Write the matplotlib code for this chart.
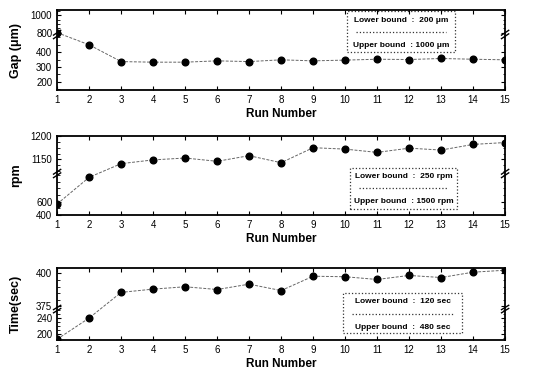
import numpy as np
import matplotlib.pyplot as plt
from matplotlib.patches import Rectangle
from matplotlib.ticker import FixedLocator

plt.rcParams['font.family'] = ['Liberation Sans', 'DejaVu Sans']

runs = list(range(1, 16))

gap = [800, 450, 336, 332, 332, 341, 336, 348, 341, 346, 352, 350, 357, 352, 348]
rpm = [565, 965, 1141, 1149, 1153, 1146, 1158, 1143, 1175, 1172, 1165, 1174, 1170, 1182, 1186]
time_sec = [187, 240, 385.5, 388, 389.8, 387.7, 391.8, 386.9, 397.9, 397.5, 395.4, 398.5, 396.9, 401, 402.5]

gap_ticks = [200, 300, 400, 800, 1000]
rpm_ticks = [400, 600, 1150, 1200]
time_ticks = [200, 240, 375, 400]

gap_minor = [150, 250, 350, 450, 500, 850, 900, 950, 1050]
rpm_minor = [500, 700, 800, 900, 1000, 1125, 1137.5, 1162.5, 1175, 1187.5]
time_minor = [190, 210, 220, 230, 250, 260, 380, 385, 390, 395]

gap_bounds = ('Lower bound  :  200 μm', 'Upper bound  : 1000 μm')
rpm_bounds = ('Lower bound  :  250 rpm', 'Upper bound  : 1500 rpm')
time_bounds = ('Lower bound  :  120 sec', 'Upper bound  :  480 sec')


def broken_scale(ax, lo, hi, up_lo, up_hi, b):
    # lower range [lo, hi] takes the axis up to fraction b, upper range the rest
    xp = [lo, hi, up_lo, up_hi]
    fp = [0.0, b - 1e-4, b + 1e-4, 1.0]
    fwd = lambda v: np.interp(v, xp, fp)
    inv = lambda u: np.interp(u, fp, xp)
    ax.set_yscale('function', functions=(fwd, inv))
    ax.set_ylim(lo, up_hi)
    # break marks on both spines
    for x in (0, 1):
        for dy in (-0.022, 0.022):
            ax.plot([x - 0.008, x + 0.008], [b + dy - 0.03, b + dy + 0.03],
                    transform=ax.transAxes, color='black', lw=1.0, clip_on=False)


def bound_box(ax, texts, box, ytxt, ysep):
    x0, y0, x1, y1 = box
    ax.add_patch(Rectangle((x0, y0), x1 - x0, y1 - y0, transform=ax.transAxes,
                           fill=False, ls=':', lw=0.9, ec='#333333'))
    xc = (x0 + x1) / 2
    ax.text(xc, ytxt[0], texts[0], transform=ax.transAxes, ha='center', va='center',
            fontsize=6, fontweight='bold')
    ax.text(xc, ytxt[1], texts[1], transform=ax.transAxes, ha='center', va='center',
            fontsize=6, fontweight='bold')
    ax.plot([x0 + 0.02, x1 - 0.02], [ysep, ysep], transform=ax.transAxes,
            ls=':', lw=0.9, color='#333333')


fig = plt.figure(figsize=(5.44, 3.75), dpi=100)
left, width = 0.105, 0.8235
ax1 = fig.add_axes([left, 0.76, width, 0.2133])
ax2 = fig.add_axes([left, 0.4267, width, 0.2107])
ax3 = fig.add_axes([left, 0.0933, width, 0.192])

broken_scale(ax1, 143, 520, 779, 1061, 0.694)
broken_scale(ax2, 400, 1022, 1120, 1200, 0.525)
broken_scale(ax3, 185, 262.5, 372.7, 404.2, 0.43)

panels = [
    (ax1, gap, gap_ticks, gap_minor, 'Gap (μm)', gap_bounds,
     (0.647, 0.475, 0.888, 0.99), (0.875, 0.5625), 0.725),
    (ax2, rpm, rpm_ticks, rpm_minor, 'rpm', rpm_bounds,
     (0.654, 0.076, 0.893, 0.599), (0.485, 0.177), 0.342),
    (ax3, time_sec, time_ticks, time_minor, 'Time(sec)', time_bounds,
     (0.638, 0.097, 0.904, 0.653), (0.528, 0.18), 0.361),
]

for ax, vals, ticks, minor, ylab, bounds, box, ytxt, ysep in panels:
    ax.plot(runs, vals, ls=(0, (3, 1.5)), lw=0.7, color='#666666',
            marker='o', ms=4.8, mfc='black', mec='black')
    ax.set_xlim(1, 15)
    ax.xaxis.set_major_locator(FixedLocator(runs))
    ax.yaxis.set_major_locator(FixedLocator(ticks))
    ax.yaxis.set_minor_locator(FixedLocator(minor))
    ax.tick_params(direction='in', top=True, right=True, labelsize=7, length=3, width=0.8)
    ax.tick_params(axis='y', which='minor', direction='in', left=True, right=True,
                   length=1.8, width=0.6)
    for s in ax.spines.values():
        s.set_linewidth(1.3)
    ax.set_xlabel('Run Number', fontsize=8.5, fontweight='bold', labelpad=2)
    ax.set_ylabel(ylab, fontsize=9, fontweight='bold')
    ax.yaxis.set_label_coords(-0.078, 0.5)
    bound_box(ax, bounds, box, ytxt, ysep)

fig.savefig('out.png', dpi=100)
